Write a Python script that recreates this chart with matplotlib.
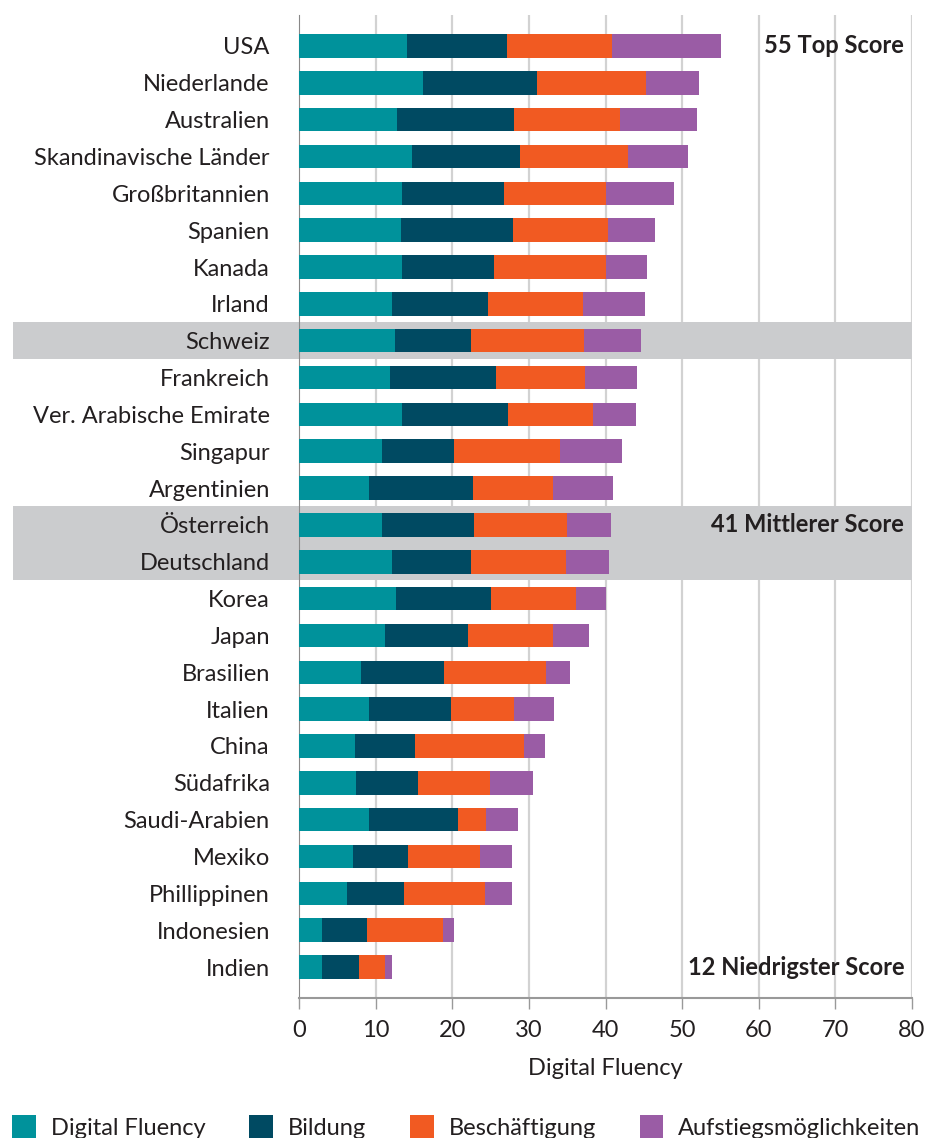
import numpy as np
import matplotlib
matplotlib.use("Agg")
import matplotlib.pyplot as plt
from matplotlib.patches import Patch

plt.rcParams['font.family'] = ['Lato', 'DejaVu Sans']

# Daten (von oben nach unten)
laender = ["USA", "Niederlande", "Australien", "Skandinavische Länder", "Großbritannien",
           "Spanien", "Kanada", "Irland", "Schweiz", "Frankreich",
           "Ver. Arabische Emirate", "Singapur", "Argentinien", "Österreich", "Deutschland",
           "Korea", "Japan", "Brasilien", "Italien", "China",
           "Südafrika", "Saudi-Arabien", "Mexiko", "Phillippinen", "Indonesien", "Indien"]
digital = [14.1, 16.2, 12.8, 14.7, 13.5, 13.3, 13.4, 12.1, 12.5, 11.9,
           13.4, 10.8, 9.1, 10.8, 12.2, 12.6, 11.2, 8.1, 9.1, 7.3,
           7.4, 9.2, 7.0, 6.3, 3.0, 3.0]
bildung = [13.1, 14.8, 15.2, 14.1, 13.3, 14.6, 12.1, 12.6, 10.0, 13.8,
           13.9, 9.4, 13.6, 12.0, 10.2, 12.4, 10.8, 10.8, 10.8, 7.9,
           8.1, 11.6, 7.2, 7.4, 5.9, 4.8]
beschaeftigung = [13.6, 14.3, 13.9, 14.1, 13.2, 12.4, 14.6, 12.4, 14.7, 11.6,
                  11.1, 13.8, 10.4, 12.2, 12.5, 11.2, 11.2, 13.4, 8.2, 14.2,
                  9.4, 3.6, 9.4, 10.6, 9.9, 3.4]
aufstieg = [14.3, 6.9, 10.1, 7.9, 9.0, 6.2, 5.3, 8.1, 7.4, 6.8,
            5.6, 8.1, 7.9, 5.7, 5.5, 3.9, 4.6, 3.1, 5.2, 2.7,
            5.6, 4.2, 4.2, 3.5, 1.4, 0.9]

serien = ["Digital Fluency", "Bildung", "Beschäftigung", "Aufstiegsmöglichkeiten"]
farben = ["#00929B", "#004A62", "#F15A22", "#9A5CA5"]
textfarbe = "#231F20"
fs = 17

W, H = 929, 1138
fig = plt.figure(figsize=(W / 100, H / 100), dpi=100)
ax = fig.add_axes([299 / W, 1 - 998 / H, 613 / W, (998 - 15) / H])

y = np.arange(len(laender))
links = np.zeros(len(laender))
for werte, name, farbe in zip([digital, bildung, beschaeftigung, aufstieg], serien, farben):
    ax.barh(y, werte, left=links, height=0.64, color=farbe, label=name, zorder=3)
    links += np.array(werte)

ax.set_xlim(0, 80)
ax.set_ylim(len(laender) - 1 + 0.84, -0.84)

# Gitterlinien
for gx in range(10, 81, 10):
    ax.axvline(gx, color="#D2D2D2", lw=1.6, zorder=0)

# graue Hervorhebungen
band_links = -(299 - 13) / 613
for a, b in [(7.5, 8.5), (12.5, 14.5)]:
    ax.axhspan(a, b, xmin=band_links, xmax=1, color="#CBCCCE", lw=0, zorder=1, clip_on=False)

ax.set_xticks(np.arange(0, 81, 10))
ax.set_yticks(y)
ax.set_yticklabels(laender)
ax.tick_params(axis="y", length=0, pad=21, labelsize=fs, labelcolor=textfarbe)
ax.tick_params(axis="x", length=8, width=1, color="#999999", pad=8, labelsize=fs, labelcolor=textfarbe)
ax.set_xlabel("Digital Fluency", fontsize=fs, color=textfarbe, labelpad=12)

for s in ["top", "right"]:
    ax.spines[s].set_visible(False)
ax.spines["left"].set_color("#888888")
ax.spines["bottom"].set_color("#999999")
ax.spines["bottom"].set_linewidth(1.5)

kw = dict(ha="right", va="center", fontsize=fs, fontweight="bold", color=textfarbe, zorder=5)
ax.text(79, 0, "55 Top Score", **kw)
ax.text(79, 13, "41 Mittlerer Score", **kw)
ax.text(79, len(laender) - 1, "12 Niedrigster Score", **kw)

griffe = [Patch(facecolor=f, edgecolor="none") for f in farben]
fig.legend(griffe, serien, loc="lower left", bbox_to_anchor=(0.003, -0.009), ncol=4,
           frameon=False, fontsize=fs, handlelength=1.0, handleheight=1.2,
           handletextpad=0.64, columnspacing=1.85, borderaxespad=0, labelcolor=textfarbe)

fig.savefig("out.png", dpi=100)
